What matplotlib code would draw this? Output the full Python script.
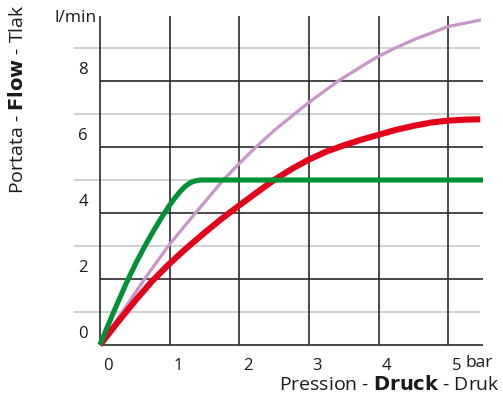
import matplotlib
matplotlib.use('Agg')
import matplotlib.pyplot as plt

# ── Data (bar -> l/min) ──────────────────────────────────────────────────────
green_x = [0, 0.1, 0.2, 0.3, 0.39, 0.52, 0.65, 0.78, 0.91, 1.0, 1.08, 1.15, 1.22, 1.29, 1.36, 1.44, 5.5]
green_y = [0, 0.52, 1.02, 1.5, 1.93, 2.5, 3.02, 3.5, 3.95, 4.24, 4.47, 4.65, 4.8, 4.91, 4.97, 5.0, 5.0]

red_x = [0, 0.25, 0.5, 0.75, 1.0, 1.25, 1.5, 1.75, 2.0, 2.25, 2.5, 2.75, 3.0, 3.25,
         3.5, 3.75, 4.0, 4.25, 4.5, 4.75, 5.0, 5.25, 5.46]
red_y = [0, 0.68, 1.33, 1.94, 2.47, 2.95, 3.4, 3.83, 4.23, 4.62, 5.0, 5.33, 5.62, 5.86,
         6.05, 6.22, 6.37, 6.52, 6.64, 6.74, 6.8, 6.83, 6.84]

pink_x = [0, 0.32, 0.64, 0.98, 1.37, 1.77, 2.0, 2.2, 2.5, 2.85, 3.0, 3.42, 3.8, 4.0, 4.24, 4.55, 5.0, 5.47]
pink_y = [0, 1.0, 2.0, 3.0, 4.0, 5.0, 5.5, 5.92, 6.5, 7.1, 7.35, 8.0, 8.5, 8.75, 9.0, 9.29, 9.65, 9.85]

x_ticks = [0, 1, 2, 3, 4, 5]
y_major = [0, 2, 4, 6, 8]
y_minor = [1, 3, 5, 7, 9]

plt.rcParams['font.family'] = ['Open Sans', 'DejaVu Sans']
TXT = '#1a1a1a'

W, H = 503, 396
fig = plt.figure(figsize=(W / 100, H / 100), dpi=100)
ax = fig.add_axes([100 / W, 51 / H, 383 / W, 329 / H])
ax.set_xlim(0, 5.5)
ax.set_ylim(0, 9.97)
ax.axis('off')

# grid
ax.hlines(y_minor, -0.37, 5.45, color='#c8c8c8', lw=1.2, clip_on=False)
ax.hlines(y_major, 0, 5.5, color='#2a2a2a', lw=1.2, clip_on=False)
ax.vlines(x_ticks, 0, 9.97, color='#2a2a2a', lw=1.2, clip_on=False)

# curves
ax.plot(pink_x, pink_y, color='#c896c8', lw=2.3, solid_capstyle='butt',
        solid_joinstyle='round', clip_on=False)
ax.plot(red_x, red_y, color='#e3001b', lw=4.4, solid_capstyle='butt',
        solid_joinstyle='round', clip_on=False)
ax.plot(green_x, green_y, color='#009036', lw=3.7, solid_capstyle='butt',
        solid_joinstyle='round', clip_on=False)

# tick labels
for v in x_ticks:
    ax.text(v + 0.12, -0.65, str(v), ha='center', va='center', fontsize=12,
            color=TXT, clip_on=False)
for v in y_major:
    ax.text(-0.24, v + 0.32, str(v), ha='center', va='center', fontsize=12,
            color=TXT, clip_on=False)

ax.text(-0.05, 9.9, 'l/min', ha='right', va='center', fontsize=12.5, color=TXT, clip_on=False)
ax.text(5.25, -0.55, 'bar', ha='left', va='center', fontsize=12.5, color=TXT, clip_on=False)

fig.text(500 / W, 1 - 384 / H, r'Pression - $\bf{Druck}$ - Druk', ha='right', va='center',
         fontsize=14, color=TXT)
fig.text(18 / W, 1 - 99 / H, r'Portata - $\bf{Flow}$ - Tlak', ha='center', va='center',
         rotation=90, fontsize=14, color=TXT)

fig.savefig('out.png', dpi=100)
